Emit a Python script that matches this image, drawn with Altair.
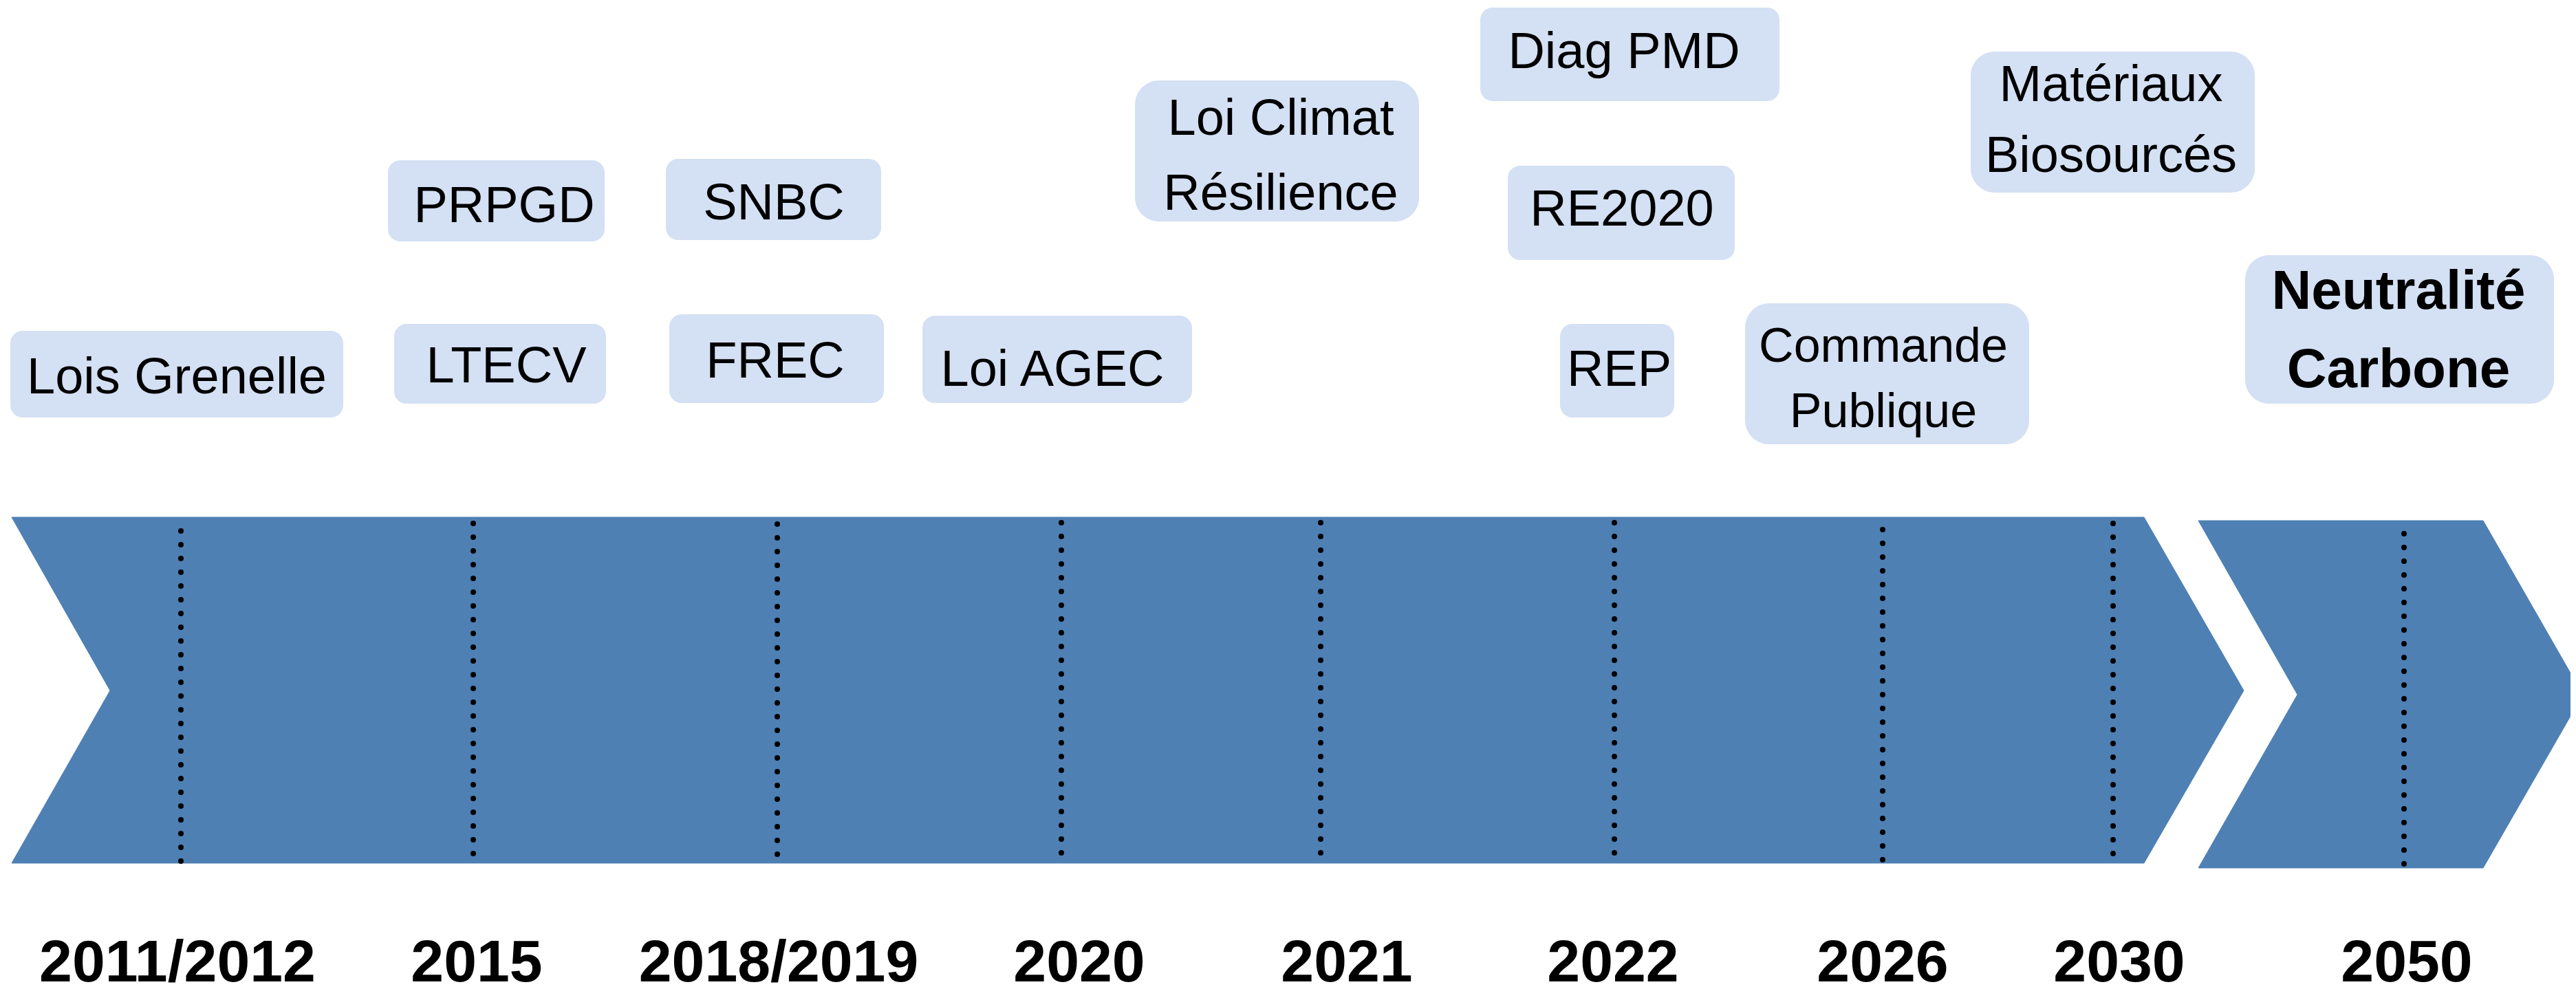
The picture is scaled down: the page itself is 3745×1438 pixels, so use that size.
import altair as alt
import pandas as pd

# ---- data ----
years = ["2011/2012", "2015", "2018/2019", "2020", "2021", "2022", "2026", "2030", "2050"]
year_line_x = [263, 688, 1130, 1543, 1920, 2347, 2737, 3072, 3495]
year_line_top = [772, 761, 762, 760, 760, 760, 770, 761, 776]
year_line_bottom = [1252, 1243, 1246, 1252, 1250, 1250, 1254, 1245, 1263]
year_label_x = [258, 693, 1132, 1569, 1958, 2345, 2737, 3081, 3499]

# arrow outlines as polygons (segment, vertex order, x, y)
poly_seg = ["a"] * 6 + ["b"] * 6
poly_ord = [0, 1, 2, 3, 4, 5] * 2
poly_x = [17, 3117, 3262, 3117, 17, 160,
          3196, 3610, 3755, 3610, 3196, 3340]
poly_y = [752, 752, 1004, 1255, 1255, 1004,
          757, 757, 1010, 1262, 1262, 1010]

# boxes
box_names = ["Lois Grenelle", "PRPGD", "SNBC", "LTECV", "FREC", "Loi AGEC",
             "Loi Climat Résilience", "Diag PMD", "RE2020", "REP",
             "Matériaux Biosourcés", "Commande Publique", "Neutralité Carbone"]
box_x1 = [15, 564, 968, 573, 973, 1341, 1650, 2152, 2192, 2268, 2865, 2537, 3264]
box_x2 = [499, 879, 1281, 881, 1285, 1733, 2063, 2587, 2522, 2434, 3278, 2950, 3713]
box_y1 = [481, 233, 231, 471, 457, 459, 117, 11, 241, 471, 75, 441, 371]
box_y2 = [607, 351, 349, 587, 586, 586, 322, 147, 378, 607, 280, 646, 587]
box_lines = [1, 1, 1, 1, 1, 1, 2, 1, 1, 1, 2, 2, 2]

# text lines inside boxes
txt = ["Lois Grenelle", "PRPGD", "SNBC", "LTECV", "FREC", "Loi AGEC",
       "Loi Climat", "Résilience", "Diag PMD", "RE2020", "REP",
       "Matériaux", "Biosourcés", "Commande", "Publique", "Neutralité", "Carbone"]
txt_x = [257, 733, 1125, 736, 1127, 1530, 1862, 1862, 2361, 2358, 2354,
         3069, 3069, 2738, 2738, 3487, 3487]
txt_y = [572, 323, 319, 556, 549, 561, 196, 305, 99, 328, 561,
         147, 250, 526, 621, 449, 563]
txt_kind = ["n"] * 13 + ["s", "s", "b", "b"]

ARROW = "#4E80B4"
BOX = "#D4E0F3"

xs = alt.Scale(domain=[8, 3737])
ys = alt.Scale(domain=[1430, 8])

poly = pd.DataFrame({"seg": poly_seg, "o": poly_ord, "x": poly_x, "y": poly_y})
lines = pd.DataFrame({"x": year_line_x, "y1": year_line_top, "y2": year_line_bottom})
ylab = pd.DataFrame({"year": years, "x": year_label_x, "y": [1427] * len(years)})
boxes = pd.DataFrame({"name": box_names, "x1": box_x1, "x2": box_x2,
                      "y1": box_y1, "y2": box_y2, "lines": box_lines})
texts = pd.DataFrame({"t": txt, "x": txt_x, "y": txt_y, "k": txt_kind})

arrow_layer = alt.Chart(poly).mark_line(
    fill=ARROW, stroke=ARROW, strokeWidth=1, interpolate="linear-closed"
).encode(
    x=alt.X("x:Q", scale=xs, axis=None),
    y=alt.Y("y:Q", scale=ys, axis=None),
    detail="seg:N",
    order="o:Q",
)

dots = alt.Chart(lines).mark_rule(
    color="black", strokeWidth=8, strokeCap="round", strokeDash=[0.1, 19.9]
).encode(
    x=alt.X("x:Q", scale=xs, axis=None),
    y=alt.Y("y1:Q", scale=ys, axis=None),
    y2="y2:Q",
)

year_text = alt.Chart(ylab).mark_text(
    font="Liberation Sans", fontWeight="bold", fontSize=86, baseline="alphabetic",
    align="center", color="black"
).encode(
    x=alt.X("x:Q", scale=xs, axis=None),
    y=alt.Y("y:Q", scale=ys, axis=None),
    text="year:N",
)

def box_layer(n, radius):
    return alt.Chart(boxes).transform_filter(
        alt.datum.lines == n
    ).mark_rect(color=BOX, cornerRadius=radius).encode(
        x=alt.X("x1:Q", scale=xs, axis=None),
        x2="x2:Q",
        y=alt.Y("y1:Q", scale=ys, axis=None),
        y2="y2:Q",
    )

def text_layer(kind, size, weight):
    return alt.Chart(texts).transform_filter(
        alt.datum.k == kind
    ).mark_text(
        font="Liberation Sans", fontSize=size, fontWeight=weight,
        baseline="alphabetic", align="center", color="black"
    ).encode(
        x=alt.X("x:Q", scale=xs, axis=None),
        y=alt.Y("y:Q", scale=ys, axis=None),
        text="t:N",
    )

chart = alt.layer(
    arrow_layer,
    dots,
    year_text,
    box_layer(1, 18),
    box_layer(2, 35),
    text_layer("n", 74, "normal"),
    text_layer("s", 70, "normal"),
    text_layer("b", 80, "bold"),
).properties(
    width=3729, height=1422, padding=0,
    autosize=alt.AutoSizeParams(type="none"),
    background="white",
).configure_view(stroke=None)

chart.save("out.html", embed_options={"renderer": "svg", "actions": False})
